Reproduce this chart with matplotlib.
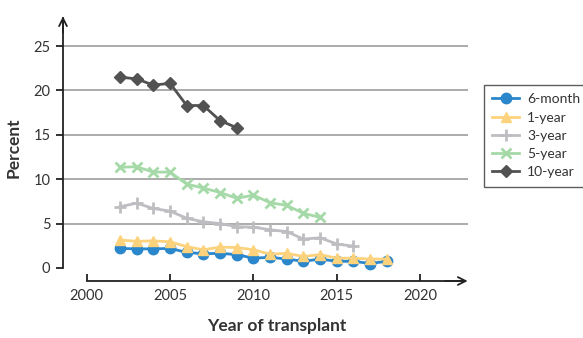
import matplotlib
matplotlib.use("Agg")
import matplotlib.pyplot as plt

plt.rcParams['font.family'] = ['Lato', 'DejaVu Sans']

years_6m = list(range(2002, 2019))
six_month = [2.2, 2.15, 2.15, 2.2, 1.75, 1.6, 1.65, 1.5, 1.1, 1.2, 1.0, 0.75, 1.0, 0.75, 0.75, 0.5, 0.75]
years_1y = list(range(2002, 2019))
one_year = [3.15, 3.0, 3.05, 2.95, 2.4, 2.05, 2.35, 2.3, 2.05, 1.55, 1.65, 1.3, 1.5, 1.1, 1.1, 1.0, 1.0]
years_3y = list(range(2002, 2017))
three_year = [6.9, 7.3, 6.7, 6.4, 5.6, 5.2, 5.0, 4.65, 4.6, 4.3, 4.1, 3.25, 3.4, 2.7, 2.45]
years_5y = list(range(2002, 2015))
five_year = [11.35, 11.4, 10.8, 10.8, 9.45, 9.0, 8.5, 7.85, 8.2, 7.35, 7.05, 6.15, 5.7]
years_10y = list(range(2002, 2010))
ten_year = [21.5, 21.3, 20.6, 20.8, 18.3, 18.3, 16.6, 15.8]

series = [
    ("6-month", years_6m, six_month, "#2B87CC", "o"),
    ("1-year", years_1y, one_year, "#FDD27C", "^"),
    ("3-year", years_3y, three_year, "#BEBEC2", "+"),
    ("5-year", years_5y, five_year, "#A6D9A8", "x"),
    ("10-year", years_10y, ten_year, "#525252", "D"),
]

xticks = [2000, 2005, 2010, 2015, 2020]
yticks = [0, 5, 10, 15, 20, 25]

W, H = 583, 338
fig = plt.figure(figsize=(W / 100, H / 100), dpi=100)
ax = fig.add_axes([63 / W, 1 - 281 / H, (468 - 63) / W, (281 - 15) / H])
x0, x1 = 1998.58, 2022.87
y0, y1 = -1.47, 28.5
ax.set_xlim(x0, x1)
ax.set_ylim(y0, y1)

for v in yticks[1:]:
    ax.hlines(v, x0, x1, color="#ABABAB", lw=1.4, zorder=1)

handles = []
for name, xs, ys, col, mk in series:
    kw = dict(color=col, lw=2.0, marker=mk, label=name, zorder=3, clip_on=False)
    if mk == "o":
        kw.update(markersize=7.5)
    elif mk == "^":
        kw.update(markersize=7.5)
    elif mk == "+":
        kw.update(markersize=9, markeredgewidth=2.0)
    elif mk == "x":
        kw.update(markersize=7, markeredgewidth=2.0)
    else:
        kw.update(markersize=6.5)
    h, = ax.plot(xs, ys, **kw)
    handles.append(h)

for s in ["top", "right"]:
    ax.spines[s].set_visible(False)
ax.spines["left"].set_bounds(0, 28.2)
ax.spines["bottom"].set_bounds(2000, 2022.7)
for s in ["left", "bottom"]:
    ax.spines[s].set_color("#222222")
    ax.spines[s].set_linewidth(1.3)

ax.annotate("", xy=(x0, 28.35), xytext=(x0, 26.5),
            arrowprops=dict(arrowstyle="->", lw=1.3, color="#222222", mutation_scale=14,
                            shrinkA=0, shrinkB=0), annotation_clip=False)
ax.annotate("", xy=(2022.85, y0), xytext=(2021.5, y0),
            arrowprops=dict(arrowstyle="->", lw=1.3, color="#222222", mutation_scale=14,
                            shrinkA=0, shrinkB=0), annotation_clip=False)

ax.set_xticks(xticks)
ax.set_yticks(yticks)
ax.tick_params(axis="x", direction="in", length=5, width=1.3, color="#222222",
               labelsize=10.5, labelcolor="#333333", pad=6)
ax.tick_params(axis="y", direction="out", length=5, width=1.3, color="#222222",
               labelsize=10.5, labelcolor="#333333", pad=4)

fig.text(277 / W, 1 - 326 / H, "Year of transplant", ha="center", va="center",
         fontsize=12.5, fontweight="bold", color="#333333")
fig.text(14 / W, 1 - 148 / H, "Percent", ha="center", va="center", rotation=90,
         fontsize=12.5, fontweight="bold", color="#333333")

leg = fig.legend(handles=handles, loc="upper left", bbox_to_anchor=(484 / W, 1 - 85 / H),
                 frameon=True, fancybox=False, edgecolor="#333333", fontsize=10,
                 handlelength=1.95, handletextpad=0.55, labelspacing=0.45,
                 borderpad=0.6, borderaxespad=0)
leg.get_frame().set_linewidth(1.0)
for t in leg.get_texts():
    t.set_color("#333333")

fig.savefig("out.png", dpi=100)
